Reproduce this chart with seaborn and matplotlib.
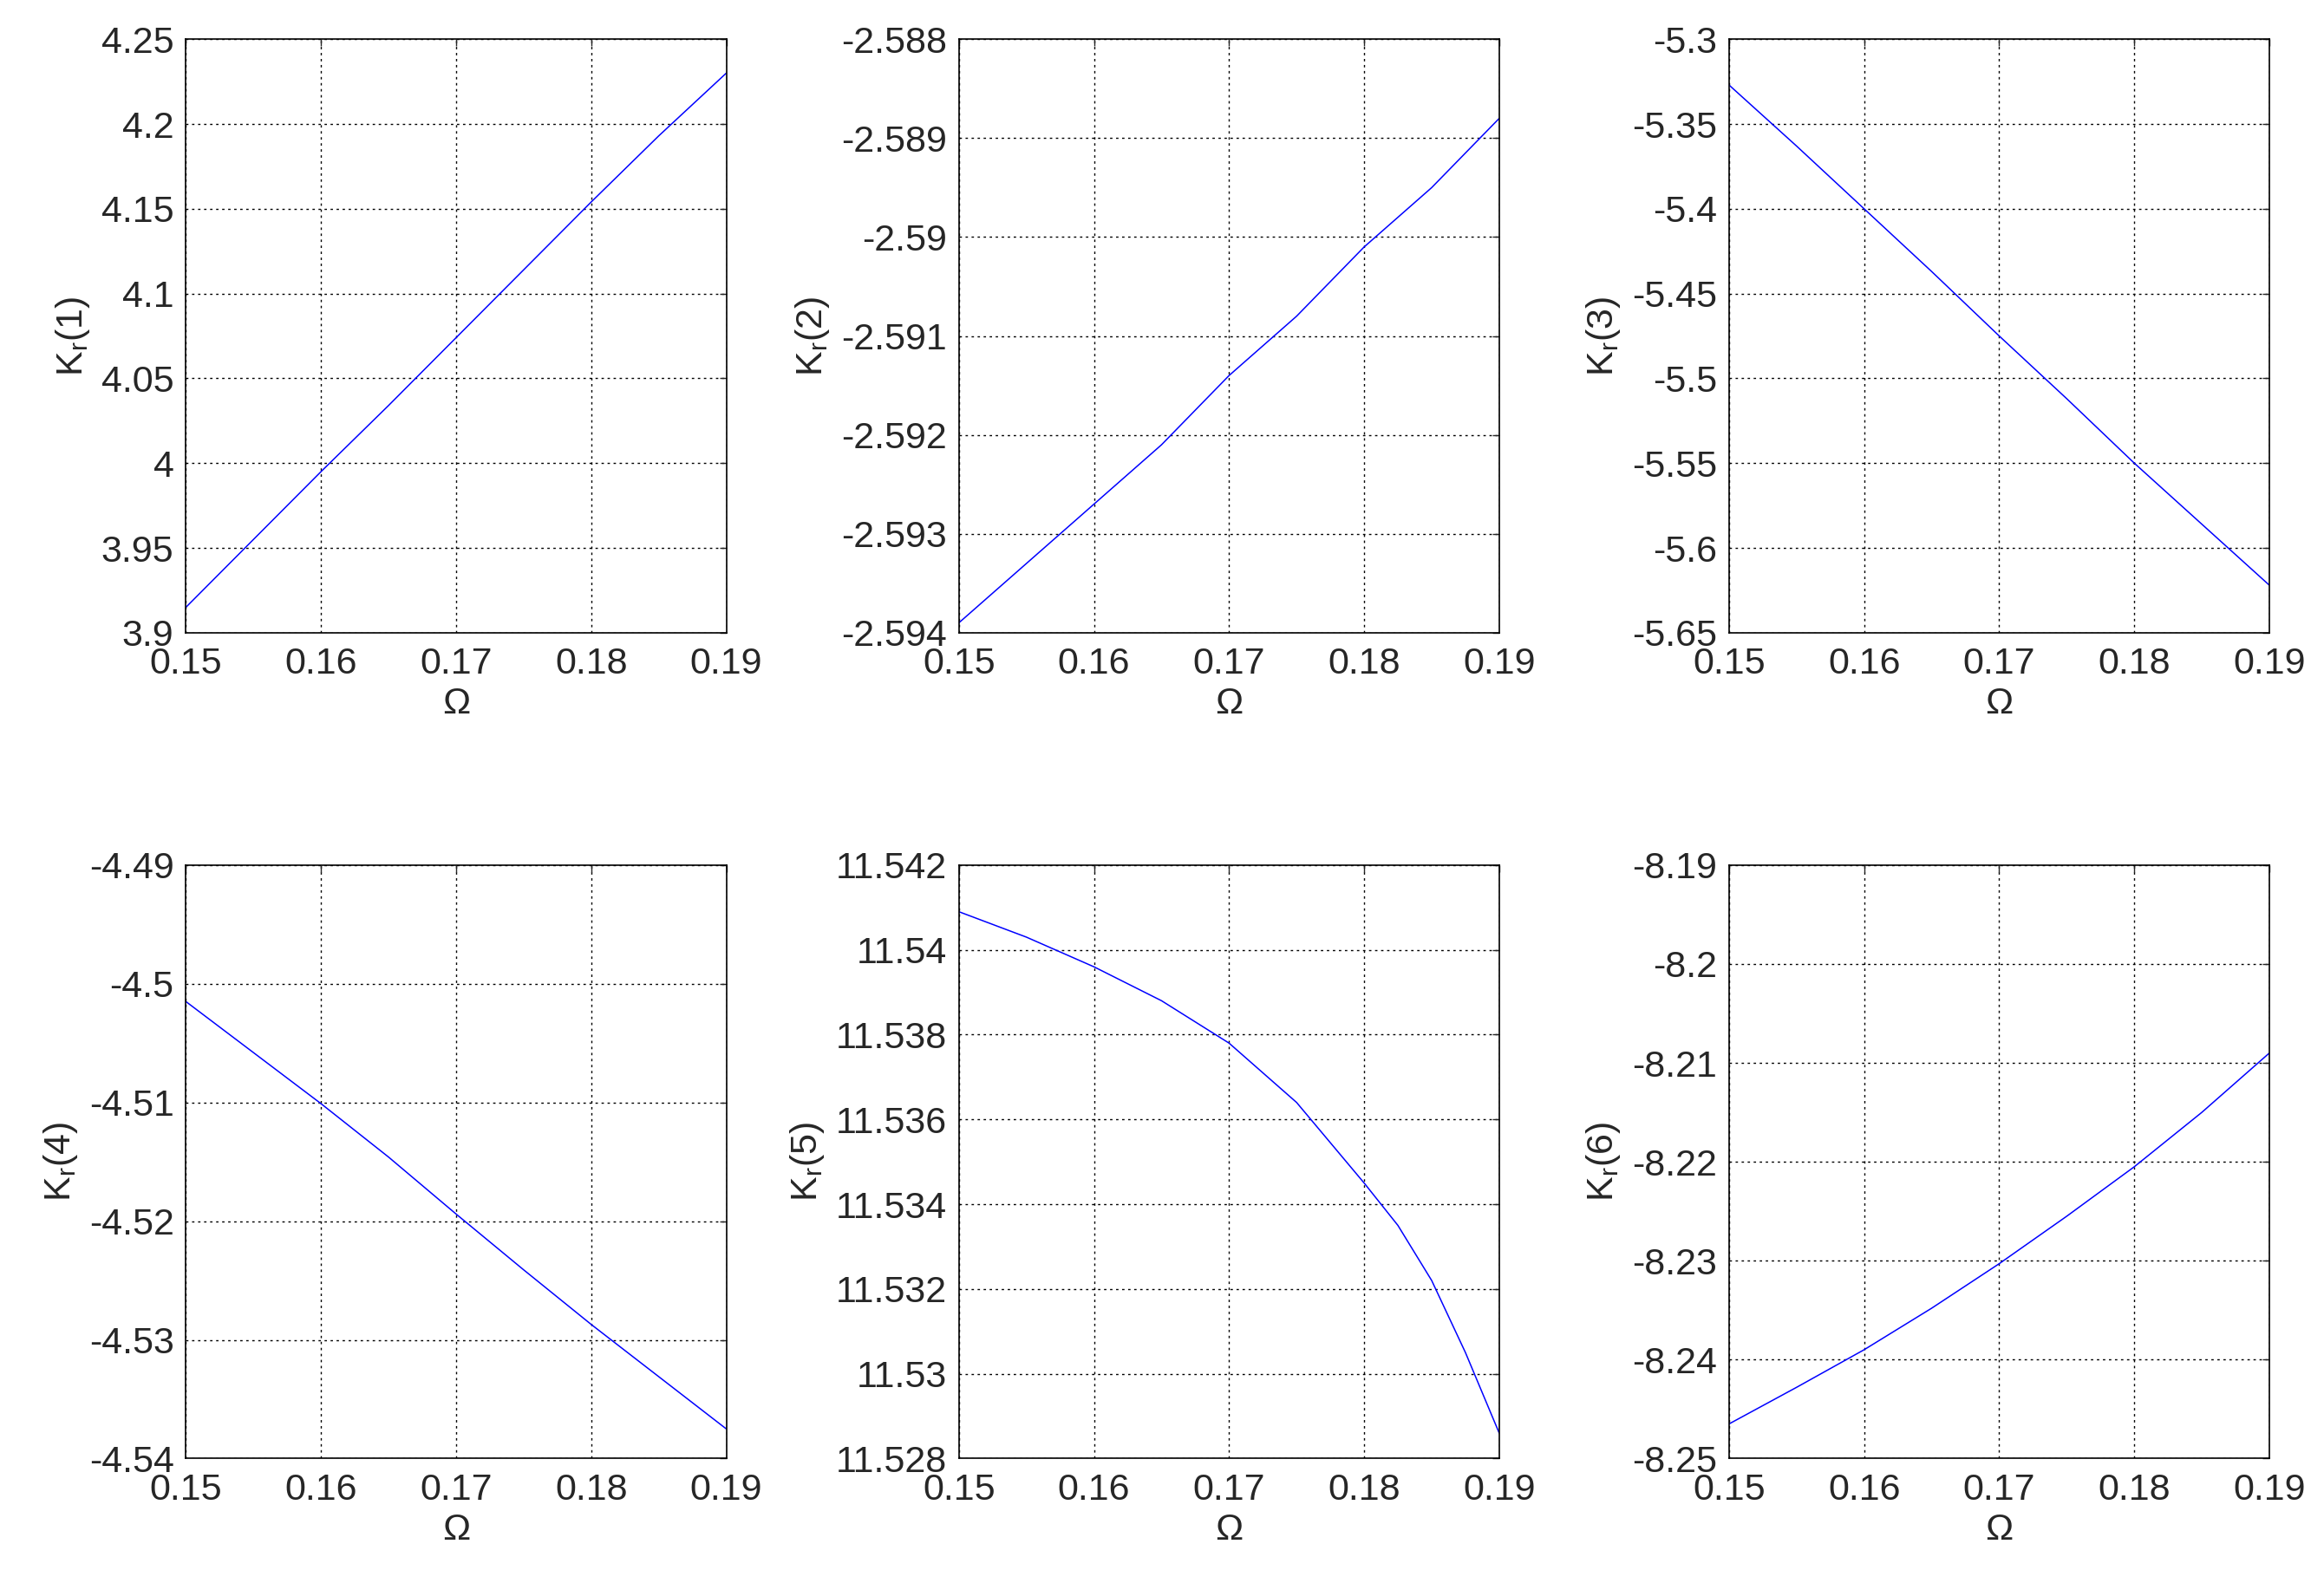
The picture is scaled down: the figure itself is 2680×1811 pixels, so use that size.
import numpy as np
import pandas as pd
import matplotlib
matplotlib.use("Agg")
import matplotlib.pyplot as plt
import seaborn as sns

omega = [0.15, 0.155, 0.16, 0.165, 0.17, 0.175, 0.18, 0.185, 0.19]
omega5 = [0.15, 0.155, 0.16, 0.165, 0.17, 0.175, 0.18, 0.1825, 0.185, 0.1875, 0.19]

k1 = [3.915, 3.955, 3.995, 4.034, 4.074, 4.114, 4.154, 4.193, 4.230]
k2 = [-2.5939, -2.5933, -2.5927, -2.5921, -2.5914, -2.5908, -2.5901, -2.5895, -2.5888]
k3 = [-5.327, -5.363, -5.400, -5.437, -5.475, -5.512, -5.550, -5.586, -5.622]
k4 = [-4.5015, -4.5058, -4.5101, -4.5146, -4.5194, -4.5241, -4.5287, -4.5331, -4.5375]
k5 = [11.5409, 11.5403, 11.5396, 11.5388, 11.5378, 11.5364, 11.5345, 11.5335, 11.5322, 11.5305, 11.5286]
k6 = [-8.2465, -8.2428, -8.2390, -8.2348, -8.2303, -8.2255, -8.2205, -8.2150, -8.2090]

series = [(omega, k1), (omega, k2), (omega, k3), (omega, k4), (omega5, k5), (omega, k6)]
ylims = [(3.9, 4.25, 0.05), (-2.594, -2.588, 0.001), (-5.65, -5.3, 0.05),
         (-4.54, -4.49, 0.01), (11.528, 11.542, 0.002), (-8.25, -8.19, 0.01)]
xticks = [0.15, 0.16, 0.17, 0.18, 0.19]

sns.set_style("white")
plt.rcParams['font.family'] = ['Liberation Sans', 'DejaVu Sans']
plt.rcParams['mathtext.fontset'] = 'custom'
plt.rcParams['mathtext.rm'] = 'Liberation Sans'
fs = 31

fig = plt.figure(figsize=(26.8, 18.11), dpi=100)
lefts = [0.080, 0.4126, 0.744]
bottoms = [0.597, 0.071]
w, h = 0.2325, 0.378

for i, ((x, y), (lo, hi, st)) in enumerate(zip(series, ylims)):
    ax = fig.add_axes([lefts[i % 3], bottoms[i // 3], w, h])
    df = pd.DataFrame({'x': x, 'y': y})
    sns.lineplot(data=df, x='x', y='y', ax=ax, color='#0000ff', linewidth=1.1)
    ax.set_xlim(0.15, 0.19)
    ax.set_ylim(lo, hi)
    ax.set_xticks(xticks)
    ax.set_xticklabels([format(round(t, 6), 'g') for t in xticks], fontsize=fs)
    yt = np.round(np.arange(lo, hi + st / 2, st), 6)
    ax.set_yticks(yt)
    ax.set_yticklabels([format(t, 'g') for t in yt], fontsize=fs)
    ax.grid(True, color='black', linestyle=(0, (2, 3)), linewidth=1.0)
    ax.tick_params(axis='x', direction='in', length=6, width=1, top=True, pad=12)
    ax.tick_params(axis='y', direction='in', length=6, width=1, right=True, pad=10)
    for s in ax.spines.values():
        s.set_color('black')
        s.set_linewidth(1.2)
    ax.set_xlabel('Ω', fontsize=fs, labelpad=4)
    ax.set_ylabel(r'K$_\mathregular{r}$(%d)' % (i + 1), fontsize=fs, labelpad=8)

fig.savefig('out.png', dpi=100)
